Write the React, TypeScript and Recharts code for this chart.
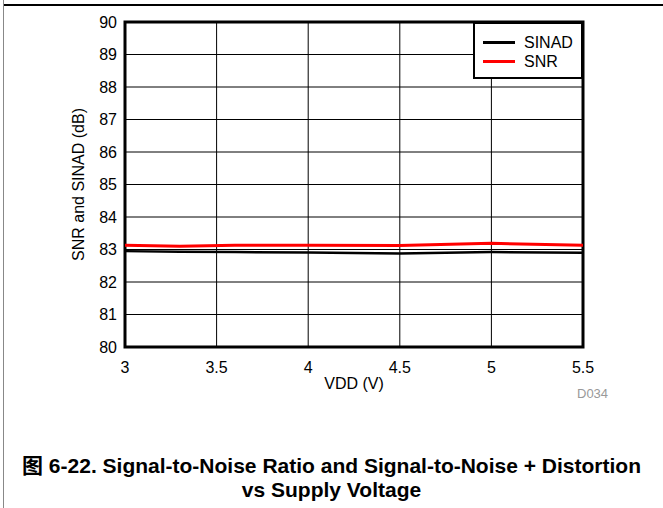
import React from "react";
import { LineChart, Line, XAxis, YAxis, CartesianGrid, ReferenceArea, Label } from "recharts";

const vdd = [3, 3.3, 3.6, 4, 4.5, 5, 5.5];
const sinad = [82.95, 82.93, 82.92, 82.91, 82.88, 82.92, 82.9];
const snr = [83.13, 83.1, 83.13, 83.13, 83.12, 83.19, 83.13];
const xTicks = [3, 3.5, 4, 4.5, 5, 5.5];
const yTicks = [80, 81, 82, 83, 84, 85, 86, 87, 88, 89, 90];
const seriesNames = ["SINAD", "SNR"];
const seriesColors = ["#000000", "#ff0000"];

const data = vdd.map((v, i) => ({ vdd: v, sinad: sinad[i], snr: snr[i] }));

const FONT = "'Liberation Sans', Arial, 'Noto Sans CJK SC', sans-serif";

export default function App() {
  return (
    <div style={{ position: "absolute", left: 0, top: 0, width: 663, height: 508, background: "#fff", fontFamily: FONT, overflow: "hidden" }}>
      <div style={{ position: "absolute", left: 3, top: 0, width: 1, height: 508, background: "#888" }} />
      <div style={{ position: "absolute", left: 4, top: 4, width: 659, height: 2, background: "#000" }} />
      <LineChart
        width={663}
        height={508}
        data={data}
        margin={{ top: 22, right: 80, left: 65, bottom: 111 }}
        style={{ position: "absolute", left: 0, top: 0 }}
      >
        <CartesianGrid stroke="#000" strokeWidth={1} />
        <XAxis
          dataKey="vdd"
          type="number"
          domain={[3, 5.5]}
          ticks={xTicks}
          tickLine={false}
          axisLine={false}
          tickSize={0}
          tickMargin={15}
          height={50}
          tick={{ fontSize: 16, fill: "#000", fontFamily: FONT }}
        >
          <Label value="VDD (V)" position="insideBottom" offset={8} style={{ fontSize: 16, fill: "#000", fontFamily: FONT }} />
        </XAxis>
        <YAxis
          type="number"
          domain={[80, 90]}
          ticks={yTicks}
          tickLine={false}
          axisLine={false}
          tickSize={0}
          tickMargin={8}
          width={60}
          tick={{ fontSize: 16, fill: "#000", fontFamily: FONT }}
        >
          <Label
            content={(props: any) => {
              const vb = props.viewBox || {};
              const cx = 78;
              const cy = (vb.y || 22) + (vb.height || 325) / 2;
              return (
                <text x={cx} y={cy} transform={`rotate(-90 ${cx} ${cy})`} textAnchor="middle" dominantBaseline="central" style={{ fontSize: 16, fill: "#000", fontFamily: FONT }}>
                  SNR and SINAD (dB)
                </text>
              );
            }}
          />
        </YAxis>
        <ReferenceArea x1={3} x2={5.5} y1={80} y2={90} fill="none" fillOpacity={0} stroke="#000" strokeWidth={3} />
        <Line type="linear" dataKey="sinad" stroke={seriesColors[0]} strokeWidth={2.5} dot={false} isAnimationActive={false} />
        <Line type="linear" dataKey="snr" stroke={seriesColors[1]} strokeWidth={3} dot={false} isAnimationActive={false} />
      </LineChart>
      <div style={{ position: "absolute", left: 473, top: 22, width: 106, height: 53, border: "2px solid #000", background: "#fff" }}>
        {seriesNames.map((n, i) => (
          <div key={n} style={{ position: "absolute", left: 8, top: 9 + i * 19, height: 19, display: "flex", alignItems: "center" }}>
            <div style={{ width: 32, height: 2.5, background: seriesColors[i] }} />
            <span style={{ marginLeft: 9, fontSize: 16, color: "#000", lineHeight: "19px" }}>{n}</span>
          </div>
        ))}
      </div>
      <div style={{ position: "absolute", left: 577, top: 386, fontSize: 13, color: "#999", lineHeight: "16px" }}>D034</div>
      <div style={{ position: "absolute", left: 0, top: 454, width: 663, textAlign: "center", fontWeight: "bold", fontSize: 21, lineHeight: "24px", color: "#000" }}>
        <div>图 6-22. Signal-to-Noise Ratio and Signal-to-Noise + Distortion</div>
        <div>vs Supply Voltage</div>
      </div>
    </div>
  );
}
